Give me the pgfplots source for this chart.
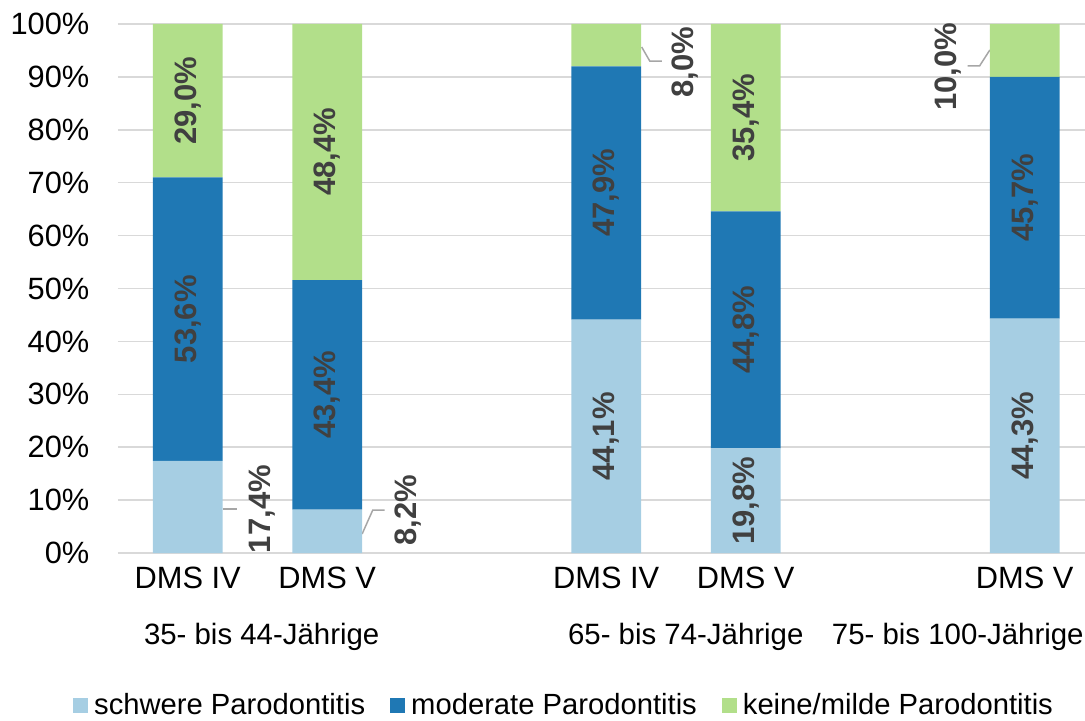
\documentclass[border=0pt]{standalone}
\usepackage{fontspec}
\setmainfont{Liberation Sans}
\usepackage{pgfplots}
\pgfplotsset{compat=1.18}
\definecolor{cA}{RGB}{166,206,227}
\definecolor{cB}{RGB}{31,120,180}
\definecolor{cC}{RGB}{178,223,138}
\definecolor{lbl}{RGB}{64,64,64}
\definecolor{gridc}{RGB}{217,217,217}
\definecolor{lead}{RGB}{166,166,166}
\begin{document}
\begin{tikzpicture}
\begin{axis}[name=ax, scale only axis, width=967pt, height=529pt,
  xmin=-0.5, xmax=6.432, ymin=0, ymax=100,
  ybar stacked, bar width=0.5,
  xtick={0,1,3,4,6}, xticklabels={DMS IV, DMS V, DMS IV, DMS V, DMS V},
  ytick={0,10,20,30,40,50,60,70,80,90,100},
  yticklabels={0\%,10\%,20\%,30\%,40\%,50\%,60\%,70\%,80\%,90\%,100\%},
  major tick length=0pt,
  axis line style={draw=none},
  ymajorgrids, grid style={gridc, line width=1.5pt},
  tick label style={font=\fontsize{30.8}{36}\selectfont, inner sep=0pt},
  yticklabel style={xshift=-28.5pt},
  xticklabel style={yshift=-14pt},
  clip=false,
  point meta=explicit symbolic,
  nodes near coords,
  every node near coord/.append style={rotate=90, anchor=center, font=\fontsize{31}{36}\selectfont\bfseries, text=lbl, inner sep=0pt},
  legend style={draw=none, fill=none, legend columns=-1, at={(0,0)}, anchor=west, xshift=-45pt, yshift=-152pt, inner sep=0pt, font=\fontsize{29.2}{36}\selectfont, nodes={inner sep=1pt},
    /tikz/every odd column/.append style={column sep=5pt},
    /tikz/every even column/.append style={column sep=24pt}},
  legend image code/.code={\fill[#1] (0pt,-7.5pt) rectangle (15pt,7.5pt);},
]
\addplot[fill=cA, draw=none] coordinates {(0,17.4) [] (1,8.2) [] (3,44.1) [44,1\%] (4,19.8) [19,8\%] (6,44.3) [44,3\%]};
\addplot[fill=cB, draw=none] coordinates {(0,53.6) [53,6\%] (1,43.4) [43,4\%] (3,47.9) [47,9\%] (4,44.8) [44,8\%] (6,45.7) [45,7\%]};
\addplot[fill=cC, draw=none] coordinates {(0,29.0) [29,0\%] (1,48.4) [48,4\%] (3,8.0) [] (4,35.4) [35,4\%] (6,10.0) []};
\legend{schwere Parodontitis, moderate Parodontitis, keine/milde Parodontitis}
\tikzset{outl/.style={rotate=90, anchor=center, font=\fontsize{31}{36}\selectfont\bfseries, text=lbl, inner sep=0pt}}
\draw[lead, line width=1.5pt] (axis cs:0.25,8.3) -- (axis cs:0.35,8.3);
\node[outl] at (axis cs:0.53,8.3) {17,4\%};
\draw[lead, line width=1.5pt] (axis cs:1.25,3.6) -- (axis cs:1.326,8.1) -- (axis cs:1.412,8.1);
\node[outl] at (axis cs:1.577,8.1) {8,2\%};
\draw[lead, line width=1.5pt] (axis cs:3.254,95.65) -- (axis cs:3.312,93.0) -- (axis cs:3.398,93.0);
\node[outl] at (axis cs:3.563,92.8) {8,0\%};
\draw[lead, line width=1.5pt] (axis cs:5.75,95.1) -- (axis cs:5.677,92.1) -- (axis cs:5.591,92.1);
\node[outl] at (axis cs:5.448,91.9) {10,0\%};
\tikzset{grp/.style={anchor=base, yshift=-91pt, font=\fontsize{29.4}{36}\selectfont}}
\node[grp] at (axis cs:0.53,0) {35- bis 44-Jährige};
\node[grp] at (axis cs:3.57,0) {65- bis 74-Jährige};
\node[grp] at (axis cs:5.52,0) {75- bis 100-Jährige};
\end{axis}
\pgfresetboundingbox
\path ([xshift=-118pt,yshift=-167pt]ax.south west) rectangle ([yshift=24pt]ax.north east);
\end{tikzpicture}
\end{document}
